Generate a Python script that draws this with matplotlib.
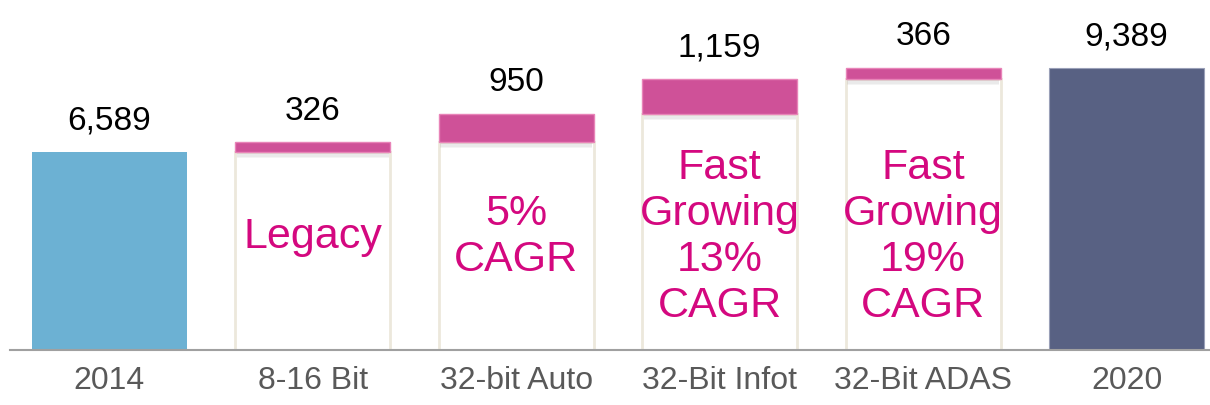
import numpy as np
import matplotlib.pyplot as plt
plt.rcParams['font.family'] = 'Liberation Sans'

# Waterfall data
categories = ["2014", "8-16 Bit", "32-bit Auto", "32-Bit Infot", "32-Bit ADAS", "2020"]
start_value = 6589
increments = [326, 950, 1159, 366]
end_value = 9389
notes = ["Legacy", "5%\nCAGR", "Fast\nGrowing\n13%\nCAGR", "Fast\nGrowing\n19%\nCAGR"]

fig = plt.figure(figsize=(12.1, 4.06), dpi=100)
ax = fig.add_axes([10 / 1210, 55 / 406, 1200 / 1210, 351 / 406])

x = np.arange(len(categories))
width = 0.762
pink = "#cf5198"
note_color = "#d4087f"

# totals
ax.bar(x[0], start_value, width, color="#6cb1d3", zorder=2)
ax.bar(x[-1], end_value, width, color="#586183", edgecolor="#9aa0b8", linewidth=0.8, zorder=2)

# increments: white body + pink cap
bottoms = start_value + np.concatenate([[0], np.cumsum(increments)[:-1]])
xi = x[1:-1]
ax.bar(xi, bottoms, width, color="white", edgecolor="#ece8dc", linewidth=2, zorder=2)
# soft shadow under the caps
for k in range(5):
    ax.bar(xi, 60, width * 0.98, bottom=bottoms - 60 - k * 35, color="#a8a8a8",
           alpha=0.12, linewidth=0, zorder=3)
ax.bar(xi, increments, width, bottom=bottoms, color=pink, edgecolor="#e884b8",
       linewidth=1, zorder=4)

# value labels
values = [start_value] + increments + [end_value]
tops = [start_value] + list(bottoms + np.array(increments)) + [end_value]
for xv, top, v in zip(x, tops, values):
    ax.annotate(f"{v:,}", (xv, top), xytext=(0, 12), textcoords="offset points",
                ha="center", va="bottom", fontsize=24, color="black")

# notes inside the increment bars
for xv, note in zip(xi, notes):
    ax.text(xv, 3800, note, ha="center", va="center", fontsize=31,
            color=note_color, linespacing=1.2, zorder=5)

ax.set_xlim(-0.489, 5.41)
ax.set_ylim(0, 11680)
ax.set_xticks(x)
ax.set_xticklabels(categories, fontsize=23, color="#595959")
ax.tick_params(axis="x", length=0, pad=11)
ax.set_yticks([])
for side in ["top", "right", "left"]:
    ax.spines[side].set_visible(False)
ax.spines["bottom"].set_color("#a0a0a0")
ax.spines["bottom"].set_linewidth(1.5)

fig.savefig("out.png", dpi=100)
